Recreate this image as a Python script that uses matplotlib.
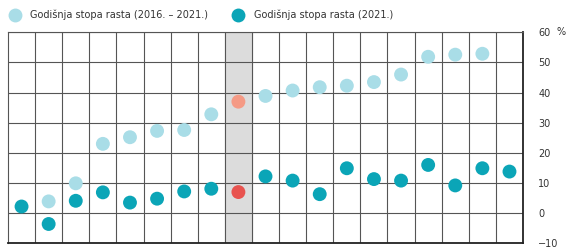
import numpy as np
import matplotlib.pyplot as plt
from matplotlib.lines import Line2D

# growth rates per region (no labels shown on the chart)
rate_2016_2021 = [np.nan, 3.9, 9.9, 23.0, 25.2, 27.3, 27.6, 32.8, 37.0, 38.9,
                  40.7, 41.8, 42.3, 43.5, 46.0, 51.9, 52.6, 52.9, np.nan]
rate_2021 = [2.2, -3.6, 4.1, 6.9, 3.5, 4.8, 7.2, 8.1, 7.0, 12.2,
             10.8, 6.3, 14.9, 11.3, 10.8, 16.0, 9.2, 14.9, 13.8]
highlight = 8  # index of the highlighted column (Croatia)
y_ticks = [-10, 0, 10, 20, 30, 40, 50, 60]

light, dark = '#a9dde7', '#0ba5b7'
light_hl, dark_hl = '#f59a85', '#e8534f'

x = np.arange(1, len(rate_2021) + 1)
c_light = [light_hl if i == highlight else light for i in range(len(x))]
c_dark = [dark_hl if i == highlight else dark for i in range(len(x))]

fig = plt.figure(figsize=(5.71, 2.49), dpi=100)
ax = fig.add_axes([0.014, 0.023, 0.902, 0.847])

ax.axvspan(x[highlight] - 0.5, x[highlight] + 0.5, color='#dcdcdc', zorder=0)
ax.scatter(x, rate_2016_2021, s=100, c=c_light, zorder=3, linewidths=0)
ax.scatter(x, rate_2021, s=100, c=c_dark, zorder=4, linewidths=0)

ax.set_xlim(0.5, len(x) + 0.5)
ax.set_ylim(-10, 60)
ax.set_xticks(np.arange(1.5, len(x), 1.0))
ax.set_xticklabels([])
ax.set_yticks(y_ticks)
ax.yaxis.tick_right()
ax.set_yticklabels([str(v).replace('-', '\u2212') for v in y_ticks],
                   fontsize=7, color='#333333')
ax.tick_params(axis='both', length=0, pad=11)
ax.grid(True, color='#555555', linewidth=0.8, zorder=1)
ax.set_axisbelow(True)
for s in ['top', 'left']:
    ax.spines[s].set_color('#555555')
    ax.spines[s].set_linewidth(0.8)
for s in ['bottom', 'right']:
    ax.spines[s].set_color('#222222')
    ax.spines[s].set_linewidth(1.3)

fig.text(0.975, 0.870, '%', fontsize=7, color='#333333', va='center')

handles = [Line2D([], [], marker='o', ls='', ms=10, color=light, mec='none'),
           Line2D([], [], marker='o', ls='', ms=10, color=dark, mec='none')]
fig.legend(handles, ['Godišnja stopa rasta (2016. – 2021.)', 'Godišnja stopa rasta (2021.)'],
           loc='upper left', bbox_to_anchor=(0.0, 0.995), ncol=2, frameon=False,
           fontsize=7, handletextpad=1.0, columnspacing=2.5, handlelength=1.2,
           labelcolor='#333333')

fig.savefig('out.png', dpi=100)
